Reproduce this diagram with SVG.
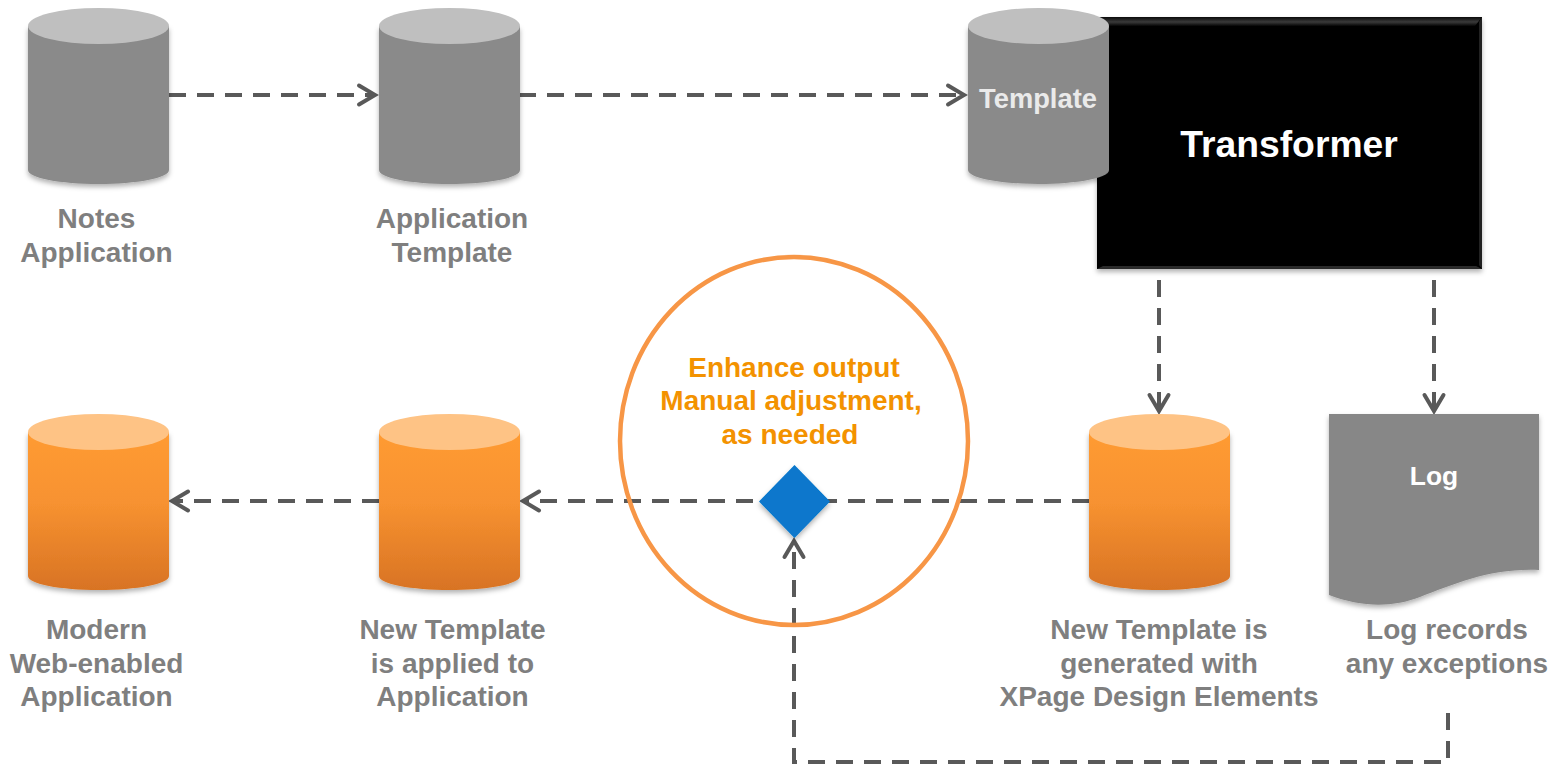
<svg xmlns="http://www.w3.org/2000/svg" width="1561" height="764" viewBox="0 0 1561 764">
<style>
text{font-family:"Liberation Sans",Arial,sans-serif;font-weight:700;text-anchor:middle}
.lbl{font-size:28px;fill:#7f7f7f}
.org{font-size:28px;fill:#f39200}
.wht{fill:#fff}
.con{fill:none;stroke:#595959;stroke-width:4;stroke-dasharray:17 11;marker-end:url(#arr)}
.sh{filter:url(#shadow)}
</style>
<defs>
<marker id="arr" markerUnits="userSpaceOnUse" markerWidth="24" markerHeight="28" refX="19" refY="12" orient="auto" overflow="visible">
<path d="M3 2.500L19 12L3 21.500" fill="none" stroke="#595959" stroke-width="4" stroke-linecap="round" stroke-linejoin="miter"/>
</marker>
<linearGradient id="og" x1="0" y1="0" x2="0" y2="1">
<stop offset="0" stop-color="#ff9b31"/><stop offset=".45" stop-color="#f79230"/><stop offset="1" stop-color="#d87324"/>
</linearGradient>
<linearGradient id="bt" x1="0" y1="0" x2="0" y2="1"><stop offset="0" stop-color="#0a0a0a"/><stop offset=".55" stop-color="#3a3a3a"/><stop offset="1" stop-color="#050505"/></linearGradient>
<filter id="shadow" x="-15%" y="-15%" width="130%" height="130%">
<feDropShadow dx="0" dy="3" stdDeviation="2.500" flood-color="#000" flood-opacity=".3"/>
</filter>
<path id="cylb" d="M28 26V170C28 178 60 184 98.500 184S169 178 169 170V26Z"/>
<ellipse id="cylt" cx="98.500" cy="26" rx="70.500" ry="18"/>
</defs>
<g id="connectors">
<path class="con" d="M169 95H375"/>
<path class="con" d="M519 95H964"/>
<path class="con" d="M1159 280V411"/>
<path class="con" d="M1434 280V411"/>
<path class="con" d="M1089 501H523"/>
<path class="con" d="M379 501H172"/>
<path class="con" d="M1448 713V762H794V541"/>
</g>
<g id="node-notes">
<use href="#cylb" class="sh" fill="#8a8a8a"/><use href="#cylt" fill="#bfbfbf"/>
<text class="lbl" x="96.500" y="228">Notes</text><text class="lbl" x="96.500" y="262">Application</text>
</g>
<g id="node-app-template" transform="translate(351 0)">
<use href="#cylb" class="sh" fill="#8a8a8a"/><use href="#cylt" fill="#bfbfbf"/>
<text class="lbl" x="101" y="228">Application</text><text class="lbl" x="101" y="262">Template</text>
</g>
<g id="node-transformer">
<rect x="1097" y="17" width="385" height="252" fill="#000" class="sh"/>
<path d="M1097 17H1482L1475 26H1106Z" fill="url(#bt)"/>
<path d="M1482 17V269L1479 265V22Z" fill="#222"/>
<path d="M1097 269H1482L1476 266H1103Z" fill="#2a2a2a"/>
<text class="wht" x="1289" y="157" font-size="37.300">Transformer</text>
</g>
<g id="node-template" transform="translate(940 0)">
<use href="#cylb" class="sh" fill="#8a8a8a"/><use href="#cylt" fill="#bfbfbf"/>
<text x="98" y="108" font-size="27.300" fill="#eaeaea">Template</text>
</g>
<g id="node-modern" transform="translate(0 406)">
<use href="#cylb" class="sh" fill="url(#og)"/><use href="#cylt" fill="#fec385"/>
<text class="lbl" x="96.500" y="233">Modern</text><text class="lbl" x="96.500" y="267">Web-enabled</text><text class="lbl" x="96.500" y="300">Application</text>
</g>
<g id="node-applied" transform="translate(351 406)">
<use href="#cylb" class="sh" fill="url(#og)"/><use href="#cylt" fill="#fec385"/>
<text class="lbl" x="101.500" y="233">New Template</text><text class="lbl" x="101.500" y="267">is applied to</text><text class="lbl" x="101.500" y="300">Application</text>
</g>
<g id="node-generated" transform="translate(1061 406)">
<use href="#cylb" class="sh" fill="url(#og)"/><use href="#cylt" fill="#fec385"/>
<text class="lbl" x="98" y="233">New Template is</text><text class="lbl" x="98" y="267">generated with</text><text class="lbl" x="98" y="300">XPage Design Elements</text>
</g>
<g id="node-log">
<path class="sh" fill="#878787" d="M1329 414H1539V570C1490 568 1455 584 1420 597C1392 608 1360 607 1329 595Z"/>
<text class="wht" x="1434" y="485" font-size="26.400">Log</text>
<text class="lbl" x="1447" y="639">Log records</text><text class="lbl" x="1447" y="673">any exceptions</text>
</g>
<g id="node-enhance">
<ellipse cx="794" cy="441" rx="174" ry="184" fill="none" stroke="#f79646" stroke-width="4.500"/>
<text class="org" x="794" y="377">Enhance output</text><text class="org" x="791" y="410">Manual adjustment,</text><text class="org" x="790" y="444">as needed</text>
</g>
<g id="node-diamond">
<path class="sh" d="M794.500 465L830 501.500L794.500 538L759 501.500Z" fill="#0777cc"/>
</g>
</svg>
